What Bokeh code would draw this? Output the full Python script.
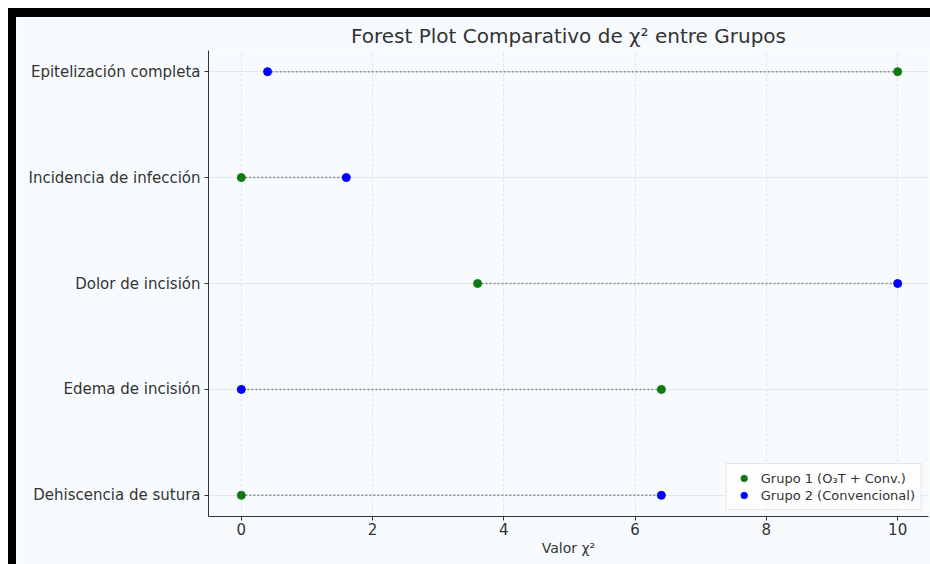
from bokeh.plotting import figure
from bokeh.models import Range1d, FixedTicker, ColumnDataSource, Legend, LegendItem
from bokeh.embed import file_html
from bokeh.resources import INLINE

categories = ["Dehiscencia de sutura", "Edema de incisión", "Dolor de incisión",
              "Incidencia de infección", "Epitelización completa"]
grupo1 = [0.0, 6.4, 3.6, 0.0, 10.0]
grupo2 = [6.4, 0.0, 10.0, 1.6, 0.4]
x_ticks = [0, 2, 4, 6, 8, 10]
label1 = "Grupo 1 (O₃T + Conv.)"
label2 = "Grupo 2 (Convencional)"

FONT = "DejaVu Sans"
BG = "#f8fbfd"

ypos = list(range(len(categories)))

p = figure(width=914, height=547, output_backend="svg", toolbar_location=None,
           x_range=Range1d(-0.5, 10.47), y_range=Range1d(-0.2, 4.2),
           min_border_left=192, min_border_right=2, min_border_top=33, min_border_bottom=48,
           background_fill_color=BG, border_fill_color=BG, outline_line_color=None)
p.styles = {"margin-top": "17px", "margin-left": "16px",
            "box-shadow": "1px 0px 0px 9px black"}

p.title.text = "Forest Plot Comparativo de χ² entre Grupos"
p.title.text_font = FONT
p.title.text_font_size = "20px"
p.title.text_font_style = "normal"
p.title.text_color = "#333333"
p.title.align = "center"
p.title.offset = 0
p.title.standoff = 5

# connecting dotted lines
seg = ColumnDataSource(dict(x0=grupo1, x1=grupo2, y=ypos))
p.segment(x0="x0", y0="y", x1="x1", y1="y", source=seg,
          line_color="#8a8a8a", line_width=1.5, line_dash="2 2")

r1 = p.scatter(grupo1, ypos, size=8, color="#0f7a12", line_color="#0f7a12")
r2 = p.scatter(grupo2, ypos, size=8, color="#0000ff", line_color="#0000ff")

legend = Legend(items=[LegendItem(label=label1, renderers=[r1]),
                       LegendItem(label=label2, renderers=[r2])],
                location="bottom_right")
legend.label_text_font = FONT
legend.label_text_font_size = "13px"
legend.label_text_color = "#333333"
legend.border_line_color = "#cccccc"
legend.background_fill_color = "#ffffff"
legend.background_fill_alpha = 0.8
legend.glyph_width = 22
legend.glyph_height = 16
legend.label_height = 16
legend.label_standoff = 6
legend.spacing = 1
legend.padding = 6
legend.margin = 6
p.add_layout(legend)

# axes
p.xaxis.ticker = FixedTicker(ticks=x_ticks)
p.yaxis.ticker = FixedTicker(ticks=ypos)
p.yaxis.major_label_overrides = {i: c for i, c in enumerate(categories)}
p.xaxis.axis_label = "Valor χ²"
p.xaxis.axis_label_text_font = FONT
p.xaxis.axis_label_text_font_size = "14px"
p.xaxis.axis_label_text_font_style = "normal"
p.xaxis.axis_label_text_color = "#333333"
p.xaxis.axis_label_standoff = 2
for ax in (p.xaxis, p.yaxis):
    ax.major_label_text_font = FONT
    ax.major_label_text_font_size = "15px"
    ax.major_label_text_color = "#333333"
    ax.axis_line_color = "#333333"
    ax.major_tick_line_color = "#333333"
    ax.major_tick_out = 4
    ax.major_tick_in = 0
    ax.minor_tick_line_color = None
p.xaxis.major_label_standoff = 2
p.yaxis.major_label_standoff = 4

p.ygrid.grid_line_color = "#e3e8ec"
p.xgrid.grid_line_color = "#dde3e8"
p.xgrid.grid_line_dash = "3 2"

open("out.html", "w").write(file_html(p, INLINE))
